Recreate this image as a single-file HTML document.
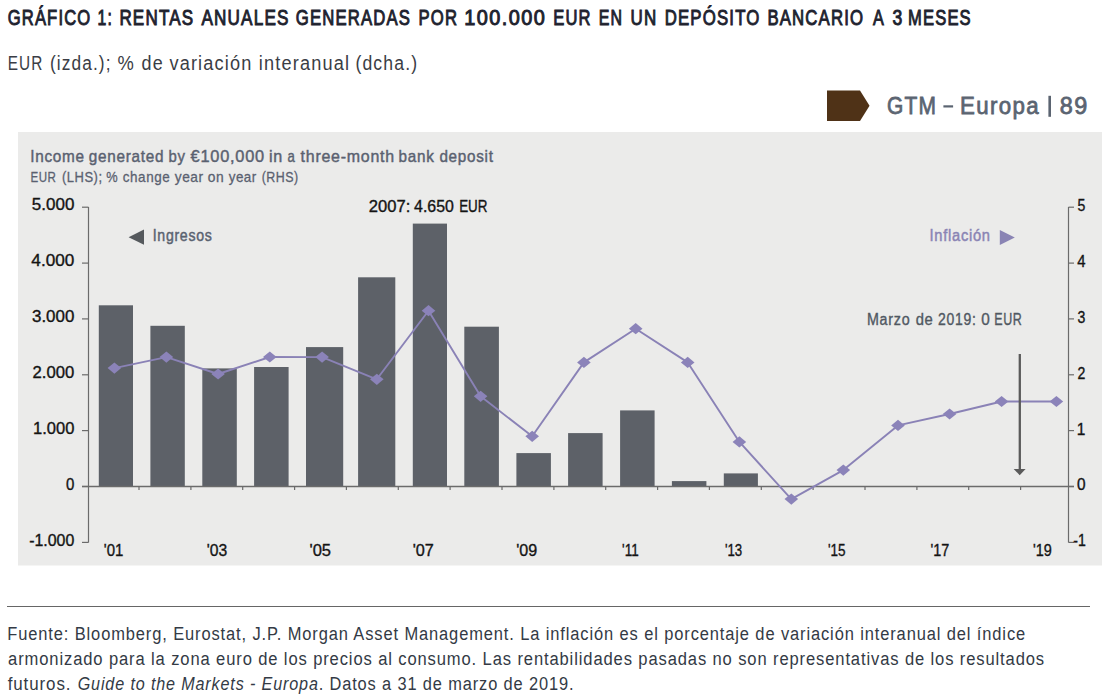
<!DOCTYPE html>
<html><head><meta charset="utf-8"><style>
html,body{margin:0;padding:0;background:#fff;width:1103px;height:696px;overflow:hidden}
svg{display:block;font-family:"Liberation Sans", sans-serif}
</style></head><body>
<svg width="1103" height="696" viewBox="0 0 1103 696">
<polygon points="827,90.5 860,90.5 869.5,105.8 860,121 827,121" fill="#4f3217"/>
<rect x="943.4" y="105.3" width="9.7" height="2.2" fill="#5b6471"/>
<rect x="1048.4" y="95.8" width="2.6" height="21" fill="#5b6471"/>
<rect x="18" y="132" width="1084" height="433.5" fill="#ebebea"/>
<rect x="98.8" y="305.3" width="34.2" height="181.2" fill="#5d6168"/>
<rect x="150.4" y="325.8" width="34.4" height="160.7" fill="#5d6168"/>
<rect x="202.3" y="368.4" width="34.5" height="118.1" fill="#5d6168"/>
<rect x="254.1" y="367.0" width="34.5" height="119.5" fill="#5d6168"/>
<rect x="306.0" y="347.1" width="37.2" height="139.4" fill="#5d6168"/>
<rect x="358.1" y="277.3" width="37.2" height="209.2" fill="#5d6168"/>
<rect x="412.8" y="223.6" width="34.2" height="262.9" fill="#5d6168"/>
<rect x="464.3" y="326.7" width="34.6" height="159.8" fill="#5d6168"/>
<rect x="516.4" y="453.1" width="34.5" height="33.4" fill="#5d6168"/>
<rect x="568.1" y="433.1" width="34.5" height="53.4" fill="#5d6168"/>
<rect x="620.1" y="410.4" width="34.5" height="76.1" fill="#5d6168"/>
<rect x="671.9" y="481.1" width="34.5" height="5.4" fill="#5d6168"/>
<rect x="723.8" y="473.4" width="34.1" height="13.1" fill="#5d6168"/>
<line x1="88.5" y1="207" x2="88.5" y2="542.5" stroke="#6b6b6b" stroke-width="1.2"/>
<line x1="1068.5" y1="207" x2="1068.5" y2="542.5" stroke="#6b6b6b" stroke-width="1.2"/>
<line x1="82" y1="486.5" x2="1074" y2="486.5" stroke="#6b6b6b" stroke-width="1.4"/>
<line x1="82" y1="542.4" x2="88.5" y2="542.4" stroke="#6b6b6b" stroke-width="1.2"/>
<line x1="1068.5" y1="542.4" x2="1074" y2="542.4" stroke="#6b6b6b" stroke-width="1.2"/>
<line x1="82" y1="486.5" x2="88.5" y2="486.5" stroke="#6b6b6b" stroke-width="1.2"/>
<line x1="1068.5" y1="486.5" x2="1074" y2="486.5" stroke="#6b6b6b" stroke-width="1.2"/>
<line x1="82" y1="430.6" x2="88.5" y2="430.6" stroke="#6b6b6b" stroke-width="1.2"/>
<line x1="1068.5" y1="430.6" x2="1074" y2="430.6" stroke="#6b6b6b" stroke-width="1.2"/>
<line x1="82" y1="374.8" x2="88.5" y2="374.8" stroke="#6b6b6b" stroke-width="1.2"/>
<line x1="1068.5" y1="374.8" x2="1074" y2="374.8" stroke="#6b6b6b" stroke-width="1.2"/>
<line x1="82" y1="318.9" x2="88.5" y2="318.9" stroke="#6b6b6b" stroke-width="1.2"/>
<line x1="1068.5" y1="318.9" x2="1074" y2="318.9" stroke="#6b6b6b" stroke-width="1.2"/>
<line x1="82" y1="263.1" x2="88.5" y2="263.1" stroke="#6b6b6b" stroke-width="1.2"/>
<line x1="1068.5" y1="263.1" x2="1074" y2="263.1" stroke="#6b6b6b" stroke-width="1.2"/>
<line x1="82" y1="207.2" x2="88.5" y2="207.2" stroke="#6b6b6b" stroke-width="1.2"/>
<line x1="1068.5" y1="207.2" x2="1074" y2="207.2" stroke="#6b6b6b" stroke-width="1.2"/>
<line x1="139.0" y1="486.5" x2="139.0" y2="490" stroke="#6b6b6b" stroke-width="1.2"/>
<line x1="190.9" y1="486.5" x2="190.9" y2="490" stroke="#6b6b6b" stroke-width="1.2"/>
<line x1="242.7" y1="486.5" x2="242.7" y2="490" stroke="#6b6b6b" stroke-width="1.2"/>
<line x1="294.6" y1="486.5" x2="294.6" y2="490" stroke="#6b6b6b" stroke-width="1.2"/>
<line x1="346.4" y1="486.5" x2="346.4" y2="490" stroke="#6b6b6b" stroke-width="1.2"/>
<line x1="398.3" y1="486.5" x2="398.3" y2="490" stroke="#6b6b6b" stroke-width="1.2"/>
<line x1="450.1" y1="486.5" x2="450.1" y2="490" stroke="#6b6b6b" stroke-width="1.2"/>
<line x1="502.0" y1="486.5" x2="502.0" y2="490" stroke="#6b6b6b" stroke-width="1.2"/>
<line x1="553.9" y1="486.5" x2="553.9" y2="490" stroke="#6b6b6b" stroke-width="1.2"/>
<line x1="605.7" y1="486.5" x2="605.7" y2="490" stroke="#6b6b6b" stroke-width="1.2"/>
<line x1="657.6" y1="486.5" x2="657.6" y2="490" stroke="#6b6b6b" stroke-width="1.2"/>
<line x1="709.4" y1="486.5" x2="709.4" y2="490" stroke="#6b6b6b" stroke-width="1.2"/>
<line x1="761.3" y1="486.5" x2="761.3" y2="490" stroke="#6b6b6b" stroke-width="1.2"/>
<line x1="813.1" y1="486.5" x2="813.1" y2="490" stroke="#6b6b6b" stroke-width="1.2"/>
<line x1="865.0" y1="486.5" x2="865.0" y2="490" stroke="#6b6b6b" stroke-width="1.2"/>
<line x1="916.9" y1="486.5" x2="916.9" y2="490" stroke="#6b6b6b" stroke-width="1.2"/>
<line x1="968.7" y1="486.5" x2="968.7" y2="490" stroke="#6b6b6b" stroke-width="1.2"/>
<line x1="1020.6" y1="486.5" x2="1020.6" y2="490" stroke="#6b6b6b" stroke-width="1.2"/>
<polyline points="114.4,368.1 166.4,357.1 218.1,374.0 269.8,357.0 322.1,357.1 376.8,379.3 428.5,310.7 480.6,396.3 532.2,436.3 583.9,362.4 635.7,328.7 687.7,362.4 739.4,441.9 791.3,499.1 843.3,470.1 898.0,425.4 949.6,414.0 1001.6,401.5 1056.4,401.5" fill="none" stroke="#8a82b6" stroke-width="1.9" stroke-linejoin="round"/>
<polygon points="107.6,368.1 114.4,362.5 121.2,368.1 114.4,373.7" fill="#8b83b9"/>
<polygon points="159.6,357.1 166.4,351.5 173.2,357.1 166.4,362.7" fill="#8b83b9"/>
<polygon points="211.3,374.0 218.1,368.4 224.9,374.0 218.1,379.6" fill="#8b83b9"/>
<polygon points="263.0,357.0 269.8,351.4 276.6,357.0 269.8,362.6" fill="#8b83b9"/>
<polygon points="315.3,357.1 322.1,351.5 328.9,357.1 322.1,362.7" fill="#8b83b9"/>
<polygon points="370.0,379.3 376.8,373.7 383.6,379.3 376.8,384.9" fill="#8b83b9"/>
<polygon points="421.7,310.7 428.5,305.1 435.3,310.7 428.5,316.3" fill="#8b83b9"/>
<polygon points="473.8,396.3 480.6,390.7 487.4,396.3 480.6,401.9" fill="#8b83b9"/>
<polygon points="525.4,436.3 532.2,430.7 539.0,436.3 532.2,441.9" fill="#8b83b9"/>
<polygon points="577.1,362.4 583.9,356.8 590.7,362.4 583.9,368.0" fill="#8b83b9"/>
<polygon points="628.9,328.7 635.7,323.1 642.5,328.7 635.7,334.3" fill="#8b83b9"/>
<polygon points="680.9,362.4 687.7,356.8 694.5,362.4 687.7,368.0" fill="#8b83b9"/>
<polygon points="732.6,441.9 739.4,436.3 746.2,441.9 739.4,447.5" fill="#8b83b9"/>
<polygon points="784.5,499.1 791.3,493.5 798.1,499.1 791.3,504.7" fill="#8b83b9"/>
<polygon points="836.5,470.1 843.3,464.5 850.1,470.1 843.3,475.7" fill="#8b83b9"/>
<polygon points="891.2,425.4 898.0,419.8 904.8,425.4 898.0,431.0" fill="#8b83b9"/>
<polygon points="942.8,414.0 949.6,408.4 956.4,414.0 949.6,419.6" fill="#8b83b9"/>
<polygon points="994.8,401.5 1001.6,395.9 1008.4,401.5 1001.6,407.1" fill="#8b83b9"/>
<polygon points="1049.6,401.5 1056.4,395.9 1063.2,401.5 1056.4,407.1" fill="#8b83b9"/>
<polygon points="128.6,237.2 144,229.5 144,244.8" fill="#55595d"/>
<polygon points="999.8,230 1014.8,237.5 999.8,245" fill="#8a84b4"/>
<line x1="1019.8" y1="354" x2="1019.8" y2="470" stroke="#5a5a5a" stroke-width="2.3"/>
<polygon points="1013.7,468.9 1025.6,468.9 1019.7,475.2" fill="#5a5a5a"/>
<line x1="7" y1="606.5" x2="1090" y2="606.5" stroke="#666" stroke-width="1.2"/>
<text x="7.7" y="24.7" font-size="21.4" fill="#20222e" letter-spacing="1.5" stroke="#20222e" stroke-width="0.95" textLength="83.68" lengthAdjust="spacingAndGlyphs">GRÁFICO</text>
<text x="97.54" y="24.7" font-size="21.4" fill="#20222e" letter-spacing="1.5" stroke="#20222e" stroke-width="0.95" textLength="15.32" lengthAdjust="spacingAndGlyphs">1:</text>
<text x="119.38" y="24.7" font-size="21.4" fill="#20222e" letter-spacing="1.5" stroke="#20222e" stroke-width="0.95" textLength="74.95" lengthAdjust="spacingAndGlyphs">RENTAS</text>
<text x="201.38" y="24.7" font-size="21.4" fill="#20222e" letter-spacing="1.5" stroke="#20222e" stroke-width="0.95" textLength="88.26" lengthAdjust="spacingAndGlyphs">ANUALES</text>
<text x="295.79" y="24.7" font-size="21.4" fill="#20222e" letter-spacing="1.5" stroke="#20222e" stroke-width="0.95" textLength="115.31" lengthAdjust="spacingAndGlyphs">GENERADAS</text>
<text x="418.5" y="24.7" font-size="21.4" fill="#20222e" letter-spacing="1.5" stroke="#20222e" stroke-width="0.95" textLength="39.65" lengthAdjust="spacingAndGlyphs">POR</text>
<text x="464.34" y="24.7" font-size="21.4" fill="#20222e" letter-spacing="1.5" stroke="#20222e" stroke-width="0.95" textLength="81.78" lengthAdjust="spacingAndGlyphs">100.000</text>
<text x="553.3" y="24.7" font-size="21.4" fill="#20222e" letter-spacing="1.5" stroke="#20222e" stroke-width="0.95" textLength="38.43" lengthAdjust="spacingAndGlyphs">EUR</text>
<text x="598.63" y="24.7" font-size="21.4" fill="#20222e" letter-spacing="1.5" stroke="#20222e" stroke-width="0.95" textLength="24.39" lengthAdjust="spacingAndGlyphs">EN</text>
<text x="630.48" y="24.7" font-size="21.4" fill="#20222e" letter-spacing="1.5" stroke="#20222e" stroke-width="0.95" textLength="26.88" lengthAdjust="spacingAndGlyphs">UN</text>
<text x="664.69" y="24.7" font-size="21.4" fill="#20222e" letter-spacing="1.5" stroke="#20222e" stroke-width="0.95" textLength="95.81" lengthAdjust="spacingAndGlyphs">DEPÓSITO</text>
<text x="767.39" y="24.7" font-size="21.4" fill="#20222e" letter-spacing="1.5" stroke="#20222e" stroke-width="0.95" textLength="96.91" lengthAdjust="spacingAndGlyphs">BANCARIO</text>
<text x="873.08" y="24.7" font-size="21.4" fill="#20222e" letter-spacing="1.5" stroke="#20222e" stroke-width="0.95" textLength="11.93" lengthAdjust="spacingAndGlyphs">A</text>
<text x="892.38" y="24.7" font-size="21.4" fill="#20222e" letter-spacing="1.5" stroke="#20222e" stroke-width="0.95" textLength="11.02" lengthAdjust="spacingAndGlyphs">3</text>
<text x="908.1" y="24.7" font-size="21.4" fill="#20222e" letter-spacing="1.5" stroke="#20222e" stroke-width="0.95" textLength="63.69" lengthAdjust="spacingAndGlyphs">MESES</text>
<text x="7.83" y="69.7" font-size="20" fill="#3a3d45" letter-spacing="1.3" textLength="35.41" lengthAdjust="spacingAndGlyphs">EUR</text>
<text x="49.94" y="69.7" font-size="20" fill="#3a3d45" letter-spacing="1.3" textLength="61.73" lengthAdjust="spacingAndGlyphs">(izda.);</text>
<text x="117.4" y="69.7" font-size="20" fill="#3a3d45" letter-spacing="1.3" textLength="17.49" lengthAdjust="spacingAndGlyphs">%</text>
<text x="141.6" y="69.7" font-size="20" fill="#3a3d45" letter-spacing="1.3" textLength="22.28" lengthAdjust="spacingAndGlyphs">de</text>
<text x="169.4" y="69.7" font-size="20" fill="#3a3d45" letter-spacing="1.3" textLength="83.2" lengthAdjust="spacingAndGlyphs">variación</text>
<text x="258.69" y="69.7" font-size="20" fill="#3a3d45" letter-spacing="1.3" textLength="91.49" lengthAdjust="spacingAndGlyphs">interanual</text>
<text x="355.42" y="69.7" font-size="20" fill="#3a3d45" letter-spacing="1.3" textLength="62.81" lengthAdjust="spacingAndGlyphs">(dcha.)</text>
<text x="886.95" y="113.8" font-size="24.5" fill="#5b6471" letter-spacing="1.5" stroke="#5b6471" stroke-width="0.8" textLength="50.34" lengthAdjust="spacingAndGlyphs">GTM</text>
<text x="960.08" y="113.8" font-size="24.5" fill="#5b6471" letter-spacing="1.5" stroke="#5b6471" stroke-width="0.8" textLength="80.04" lengthAdjust="spacingAndGlyphs">Europa</text>
<text x="1059.75" y="113.8" font-size="24.5" fill="#5b6471" letter-spacing="1.5" stroke="#5b6471" stroke-width="0.8" textLength="28.88" lengthAdjust="spacingAndGlyphs">89</text>
<text x="30.22" y="161.8" font-size="17" fill="#5a6170" letter-spacing="0.8" stroke="#5a6170" stroke-width="0.45" textLength="54.58" lengthAdjust="spacingAndGlyphs">Income</text>
<text x="88.82" y="161.8" font-size="17" fill="#5a6170" letter-spacing="0.8" stroke="#5a6170" stroke-width="0.45" textLength="75.38" lengthAdjust="spacingAndGlyphs">generated</text>
<text x="168.55" y="161.8" font-size="17" fill="#5a6170" letter-spacing="0.8" stroke="#5a6170" stroke-width="0.45" textLength="17.19" lengthAdjust="spacingAndGlyphs">by</text>
<text x="190.62" y="161.8" font-size="17" fill="#5a6170" letter-spacing="0.8" stroke="#5a6170" stroke-width="0.45" textLength="74.36" lengthAdjust="spacingAndGlyphs">€100,000</text>
<text x="268.97" y="161.8" font-size="17" fill="#5a6170" letter-spacing="0.8" stroke="#5a6170" stroke-width="0.45" textLength="14.09" lengthAdjust="spacingAndGlyphs">in</text>
<text x="287.62" y="161.8" font-size="17" fill="#5a6170" letter-spacing="0.8" stroke="#5a6170" stroke-width="0.45" textLength="7.95" lengthAdjust="spacingAndGlyphs">a</text>
<text x="300.62" y="161.8" font-size="17" fill="#5a6170" letter-spacing="0.8" stroke="#5a6170" stroke-width="0.45" textLength="94.33" lengthAdjust="spacingAndGlyphs">three-month</text>
<text x="398.53" y="161.8" font-size="17" fill="#5a6170" letter-spacing="0.8" stroke="#5a6170" stroke-width="0.45" textLength="36.02" lengthAdjust="spacingAndGlyphs">bank</text>
<text x="439.43" y="161.8" font-size="17" fill="#5a6170" letter-spacing="0.8" stroke="#5a6170" stroke-width="0.45" textLength="54.22" lengthAdjust="spacingAndGlyphs">deposit</text>
<text x="30.48" y="181.9" font-size="15" fill="#5a6170" letter-spacing="0.6" stroke="#5a6170" stroke-width="0.3" textLength="25.8" lengthAdjust="spacingAndGlyphs">EUR</text>
<text x="61.95" y="181.9" font-size="15" fill="#5a6170" letter-spacing="0.6" stroke="#5a6170" stroke-width="0.3" textLength="40.63" lengthAdjust="spacingAndGlyphs">(LHS);</text>
<text x="106.35" y="181.9" font-size="15" fill="#5a6170" letter-spacing="0.6" stroke="#5a6170" stroke-width="0.3" textLength="11.9" lengthAdjust="spacingAndGlyphs">%</text>
<text x="122.85" y="181.9" font-size="15" fill="#5a6170" letter-spacing="0.6" stroke="#5a6170" stroke-width="0.3" textLength="47.34" lengthAdjust="spacingAndGlyphs">change</text>
<text x="174.75" y="181.9" font-size="15" fill="#5a6170" letter-spacing="0.6" stroke="#5a6170" stroke-width="0.3" textLength="28.84" lengthAdjust="spacingAndGlyphs">year</text>
<text x="207.75" y="181.9" font-size="15" fill="#5a6170" letter-spacing="0.6" stroke="#5a6170" stroke-width="0.3" textLength="16.47" lengthAdjust="spacingAndGlyphs">on</text>
<text x="228.65" y="181.9" font-size="15" fill="#5a6170" letter-spacing="0.6" stroke="#5a6170" stroke-width="0.3" textLength="28.23" lengthAdjust="spacingAndGlyphs">year</text>
<text x="261.65" y="181.9" font-size="15" fill="#5a6170" letter-spacing="0.6" stroke="#5a6170" stroke-width="0.3" textLength="36.99" lengthAdjust="spacingAndGlyphs">(RHS)</text>
<text x="31.78" y="210.3" font-size="16.6" fill="#141414" stroke="#141414" stroke-width="0.35" textLength="42.58" lengthAdjust="spacingAndGlyphs">5.000</text>
<text x="31.38" y="266.2" font-size="16.6" fill="#141414" stroke="#141414" stroke-width="0.35" textLength="42.99" lengthAdjust="spacingAndGlyphs">4.000</text>
<text x="31.98" y="322.0" font-size="16.6" fill="#141414" stroke="#141414" stroke-width="0.35" textLength="42.38" lengthAdjust="spacingAndGlyphs">3.000</text>
<text x="32.57" y="377.9" font-size="16.6" fill="#141414" stroke="#141414" stroke-width="0.35" textLength="41.78" lengthAdjust="spacingAndGlyphs">2.000</text>
<text x="32.98" y="433.7" font-size="16.6" fill="#141414" stroke="#141414" stroke-width="0.35" textLength="41.37" lengthAdjust="spacingAndGlyphs">1.000</text>
<text x="65.97" y="489.6" font-size="16.6" fill="#141414" stroke="#141414" stroke-width="0.35" textLength="8.36" lengthAdjust="spacingAndGlyphs">0</text>
<text x="29.18" y="545.5" font-size="16.6" fill="#141414" stroke="#141414" stroke-width="0.35" textLength="45.17" lengthAdjust="spacingAndGlyphs">-1.000</text>
<text x="1077.58" y="211.1" font-size="16.6" fill="#141414" stroke="#141414" stroke-width="0.35" textLength="7.84" lengthAdjust="spacingAndGlyphs">5</text>
<text x="1077.17" y="267.0" font-size="16.6" fill="#141414" stroke="#141414" stroke-width="0.35" textLength="8.25" lengthAdjust="spacingAndGlyphs">4</text>
<text x="1077.58" y="322.8" font-size="16.6" fill="#141414" stroke="#141414" stroke-width="0.35" textLength="7.84" lengthAdjust="spacingAndGlyphs">3</text>
<text x="1077.58" y="378.7" font-size="16.6" fill="#141414" stroke="#141414" stroke-width="0.35" textLength="7.84" lengthAdjust="spacingAndGlyphs">2</text>
<text x="1076.84" y="434.5" font-size="16.6" fill="#141414" stroke="#141414" stroke-width="0.35" textLength="8.59" lengthAdjust="spacingAndGlyphs">1</text>
<text x="1076.88" y="490.4" font-size="16.6" fill="#141414" stroke="#141414" stroke-width="0.35" textLength="8.56" lengthAdjust="spacingAndGlyphs">0</text>
<text x="1073.27" y="546.3" font-size="16.6" fill="#141414" stroke="#141414" stroke-width="0.35" textLength="12.54" lengthAdjust="spacingAndGlyphs">-1</text>
<text x="103.77" y="555.9" font-size="16.8" fill="#141414" stroke="#141414" stroke-width="0.35" textLength="19.55" lengthAdjust="spacingAndGlyphs">'01</text>
<text x="206.68" y="555.9" font-size="16.8" fill="#141414" stroke="#141414" stroke-width="0.35" textLength="20.46" lengthAdjust="spacingAndGlyphs">'03</text>
<text x="309.48" y="555.9" font-size="16.8" fill="#141414" stroke="#141414" stroke-width="0.35" textLength="21.58" lengthAdjust="spacingAndGlyphs">'05</text>
<text x="412.68" y="555.9" font-size="16.8" fill="#141414" stroke="#141414" stroke-width="0.35" textLength="21.17" lengthAdjust="spacingAndGlyphs">'07</text>
<text x="516.17" y="555.9" font-size="16.8" fill="#141414" stroke="#141414" stroke-width="0.35" textLength="20.97" lengthAdjust="spacingAndGlyphs">'09</text>
<text x="622.07" y="555.9" font-size="16.8" fill="#141414" stroke="#141414" stroke-width="0.35" textLength="16.62" lengthAdjust="spacingAndGlyphs">'11</text>
<text x="724.88" y="555.9" font-size="16.8" fill="#141414" stroke="#141414" stroke-width="0.35" textLength="17.31" lengthAdjust="spacingAndGlyphs">'13</text>
<text x="827.88" y="555.9" font-size="16.8" fill="#141414" stroke="#141414" stroke-width="0.35" textLength="17.62" lengthAdjust="spacingAndGlyphs">'15</text>
<text x="930.47" y="555.9" font-size="16.8" fill="#141414" stroke="#141414" stroke-width="0.35" textLength="18.84" lengthAdjust="spacingAndGlyphs">'17</text>
<text x="1032.97" y="555.9" font-size="16.8" fill="#141414" stroke="#141414" stroke-width="0.35" textLength="18.84" lengthAdjust="spacingAndGlyphs">'19</text>
<text x="368.78" y="212" font-size="15.8" fill="#141414" stroke="#141414" stroke-width="0.35" textLength="41.51" lengthAdjust="spacingAndGlyphs">2007:</text>
<text x="414.07" y="212" font-size="15.8" fill="#141414" stroke="#141414" stroke-width="0.35" textLength="39.73" lengthAdjust="spacingAndGlyphs">4.650</text>
<text x="459.13" y="212" font-size="15.8" fill="#141414" stroke="#141414" stroke-width="0.35" textLength="28.35" lengthAdjust="spacingAndGlyphs">EUR</text>
<text x="152.74" y="240.6" font-size="16" fill="#5a6270" letter-spacing="0.8" stroke="#5a6270" stroke-width="0.45" textLength="59.74" lengthAdjust="spacingAndGlyphs">Ingresos</text>
<text x="929.51" y="240.6" font-size="16" fill="#8a84b4" letter-spacing="0.8" stroke="#8a84b4" stroke-width="0.45" textLength="61.22" lengthAdjust="spacingAndGlyphs">Inflación</text>
<text x="866.96" y="324.9" font-size="15.6" fill="#505862" letter-spacing="0.8" stroke="#505862" stroke-width="0.35" textLength="43.4" lengthAdjust="spacingAndGlyphs">Marzo</text>
<text x="915.67" y="324.9" font-size="15.6" fill="#505862" letter-spacing="0.8" stroke="#505862" stroke-width="0.35" textLength="17.94" lengthAdjust="spacingAndGlyphs">de</text>
<text x="937.97" y="324.9" font-size="15.6" fill="#505862" letter-spacing="0.8" stroke="#505862" stroke-width="0.35" textLength="38.56" lengthAdjust="spacingAndGlyphs">2019:</text>
<text x="981.17" y="324.9" font-size="15.6" fill="#505862" letter-spacing="0.8" stroke="#505862" stroke-width="0.35" textLength="9.31" lengthAdjust="spacingAndGlyphs">0</text>
<text x="994.17" y="324.9" font-size="15.6" fill="#505862" letter-spacing="0.8" stroke="#505862" stroke-width="0.35" textLength="28.3" lengthAdjust="spacingAndGlyphs">EUR</text>
<text x="7.22" y="639.8" font-size="18.8" fill="#333a45" letter-spacing="1" textLength="1018.84" lengthAdjust="spacingAndGlyphs">Fuente: Bloomberg, Eurostat, J.P. Morgan Asset Management. La inflación es el porcentaje de variación interanual del índice</text>
<text x="8.1" y="664.5" font-size="18.8" fill="#333a45" letter-spacing="1" textLength="1036.93" lengthAdjust="spacingAndGlyphs">armonizado para la zona euro de los precios al consumo. Las rentabilidades pasadas no son representativas de los resultados</text>
<text x="7.7" y="689.5" font-size="18.8" fill="#333a45" letter-spacing="1" textLength="63.7" lengthAdjust="spacingAndGlyphs">futuros.</text>
<text x="77.7" y="689.5" font-size="18.8" fill="#333a45" font-style="italic" letter-spacing="1" textLength="241.04" lengthAdjust="spacingAndGlyphs">Guide to the Markets - Europa</text>
<text x="318.63" y="689.5" font-size="18.8" fill="#333a45" letter-spacing="1" textLength="255.71" lengthAdjust="spacingAndGlyphs">. Datos a 31 de marzo de 2019.</text>
</svg>
</body></html>
